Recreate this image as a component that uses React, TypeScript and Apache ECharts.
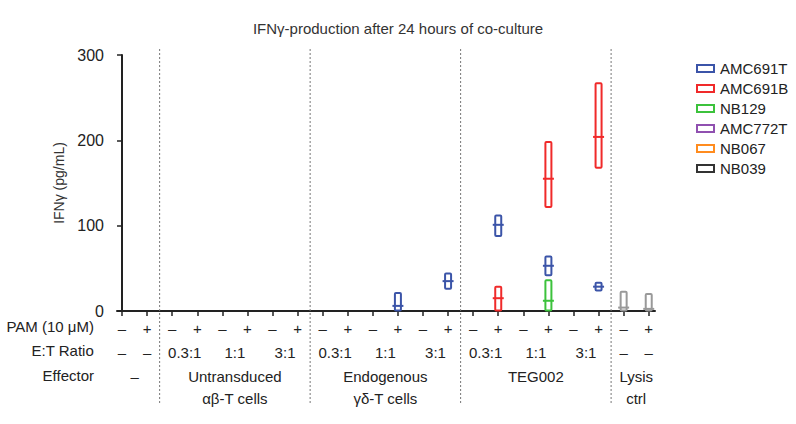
import React, { useEffect, useRef } from "react";
import * as echarts from "echarts";

// ---- data ----
const positions = Array.from({ length: 22 }, (_, i) => i);
const pamLabels = ["–", "+", "–", "+", "–", "+", "–", "+", "–", "+", "–", "+", "–", "+", "–", "+", "–", "+", "–", "+", "–", "+"];
const etPositions = [0, 1, 2.5, 4.5, 6.5, 8.5, 10.5, 12.5, 14.5, 16.5, 18.5, 20, 21];
const etLabels = ["–", "–", "0.3:1", "1:1", "3:1", "0.3:1", "1:1", "3:1", "0.3:1", "1:1", "3:1", "–", "–"];
const effectorPositions = [0.5, 4.5, 10.5, 16.5, 20.5];
const effectorLabels = ["–", "Untransduced\nαβ-T cells", "Endogenous\nγδ-T cells", "TEG002", "Lysis\nctrl"];
const separators = [1.5, 7.5, 13.5, 19.5];

const seriesNames = ["AMC691T", "AMC691B", "NB129", "AMC772T", "NB067", "NB039"];
const seriesColors = ["#3b54a8", "#f02a2a", "#3cc23c", "#9050b0", "#ff8c1f", "#333333"];
// each: [position, min, median, max]
const amc691t = [
  [11, 0.5, 6, 21],
  [13, 26, 35, 44],
  [15, 88, 101, 112],
  [17, 42, 53, 64],
  [19, 24, 28.5, 33],
];
const amc691b = [
  [15, 0.5, 15, 28.5],
  [17, 122, 155, 198],
  [19, 168, 204, 267],
];
const nb129 = [[17, 0.5, 12, 36]];
const amc772t: number[][] = [];
const nb067: number[][] = [];
const nb039: number[][] = [];
const lysisCtrl = [
  [20, 0.5, 4, 22.5],
  [21, 0.5, 2.5, 20],
];
const lysisColor = "#999999";

const FONT = "'Liberation Sans', Arial, Helvetica, sans-serif";

function boxRender(color: string) {
  return (params: any, api: any) => {
    const x = api.value(0);
    const lo = api.coord([x, api.value(1)]);
    const mid = api.coord([x, api.value(2)]);
    const hi = api.coord([x, api.value(3)]);
    const w = 6;
    return {
      type: "group",
      children: [
        {
          type: "rect",
          shape: { x: hi[0] - w / 2, y: hi[1], width: w, height: lo[1] - hi[1], r: 1 },
          style: { fill: "none", stroke: color, lineWidth: 2 },
        },
        {
          type: "line",
          shape: { x1: mid[0] - w / 2 - 2.5, y1: mid[1], x2: mid[0] + w / 2 + 2.5, y2: mid[1] },
          style: { stroke: color, lineWidth: 2 },
        },
      ],
    };
  };
}

export default function App() {
  const ref = useRef<HTMLDivElement>(null);
  useEffect(() => {
    if (!ref.current) return;
    const chart = echarts.init(ref.current, null, { renderer: "svg" });
    const pamMap = new Map(positions.map((p, i) => [p, pamLabels[i]]));
    const etMap = new Map(etPositions.map((p, i) => [p, etLabels[i]]));
    const effMap = new Map(effectorPositions.map((p, i) => [p, effectorLabels[i]]));
    const allData = [amc691t, amc691b, nb129, amc772t, nb067, nb039];

    const baseX = {
      type: "value",
      gridIndex: 0,
      min: -0.2,
      max: 21.25,
      position: "bottom",
      splitLine: { show: false },
    };

    const option: any = {
      animation: false,
      textStyle: { fontFamily: FONT },
      title: {
        text: "IFNγ-production after 24 hours of co-culture",
        left: "center",
        top: 16,
        textStyle: { fontSize: 15, fontWeight: "normal", color: "#333", fontFamily: FONT },
      },
      legend: {
        orient: "vertical",
        left: 691,
        top: 56,
        itemWidth: 17,
        itemHeight: 7,
        itemGap: 5,
        icon: "rect",
        textStyle: { fontSize: 15, color: "#222", fontFamily: FONT, padding: [0, 0, 0, 1] },
        data: seriesNames.map((n, i) => ({
          name: n,
          itemStyle: { color: "#fff", borderColor: seriesColors[i], borderWidth: 2 },
        })),
      },
      grid: { left: 117, right: 141, top: 55, bottom: 113, containLabel: false },
      xAxis: [
        {
          ...baseX,
          axisLine: { show: true, onZero: false, lineStyle: { color: "#222", width: 2 } },
          axisTick: { show: true, customValues: positions, length: 5, lineStyle: { color: "#222", width: 1.5 } },
          axisLabel: {
            customValues: positions,
            formatter: (v: number) => pamMap.get(v) ?? "",
            margin: 10,
            fontSize: 15,
            color: "#222",
            fontFamily: FONT,
          },
        },
        {
          ...baseX,
          offset: 24,
          axisLine: { show: false },
          axisTick: { show: false },
          axisLabel: {
            customValues: etPositions,
            formatter: (v: number) => etMap.get(v) ?? "",
            margin: 10,
            fontSize: 15,
            color: "#222",
            fontFamily: FONT,
          },
        },
        {
          ...baseX,
          offset: 44,
          axisLine: { show: false },
          axisTick: { show: false },
          axisLabel: {
            customValues: effectorPositions,
            formatter: (v: number) => effMap.get(v) ?? "",
            margin: 10,
            fontSize: 15,
            lineHeight: 22,
            color: "#222",
            fontFamily: FONT,
          },
        },
      ],
      yAxis: {
        type: "value",
        min: 0,
        max: 300,
        interval: 100,
        name: "IFNγ (pg/mL)",
        nameLocation: "middle",
        nameGap: 47,
        nameRotate: 90,
        nameTextStyle: { fontSize: 14, color: "#333", fontFamily: FONT },
        axisLine: { show: true, lineStyle: { color: "#222", width: 2 } },
        axisTick: { show: true, length: 5, lineStyle: { color: "#222", width: 1.5 } },
        axisLabel: { margin: 13, fontSize: 16, color: "#222", fontFamily: FONT },
        splitLine: { show: false },
      },
      graphic: [
        { type: "text", right: 796 - 94, top: 319, style: { text: "PAM (10 μM)", fontSize: 15, fill: "#222", fontFamily: FONT } },
        { type: "text", right: 796 - 94, top: 343, style: { text: "E:T Ratio", fontSize: 15, fill: "#222", fontFamily: FONT } },
        { type: "text", right: 796 - 94, top: 368, style: { text: "Effector", fontSize: 15, fill: "#222", fontFamily: FONT } },
      ],
      series: [
        {
          type: "custom",
          name: "separators",
          clip: false,
          silent: true,
          data: separators.map((s) => [s, 0]),
          renderItem: (params: any, api: any) => {
            const x = api.value(0);
            const top = api.coord([x, 300]);
            const bot = api.coord([x, 0]);
            return {
              type: "line",
              shape: { x1: top[0], y1: top[1] - 6, x2: bot[0], y2: bot[1] + 94 },
              style: { stroke: "#777", lineWidth: 1, lineDash: [2, 2] },
            };
          },
          z: 1,
        },
        ...seriesNames.map((n, i) => ({
          type: "custom",
          name: n,
          data: allData[i],
          clip: false,
          itemStyle: { color: seriesColors[i] },
          encode: { x: 0, y: [1, 2, 3] },
          renderItem: boxRender(seriesColors[i]),
          z: 3,
        })),
        {
          type: "custom",
          name: "Lysis ctrl",
          data: lysisCtrl,
          clip: false,
          encode: { x: 0, y: [1, 2, 3] },
          renderItem: boxRender(lysisColor),
          z: 3,
        },
      ],
    };
    chart.setOption(option);
    return () => chart.dispose();
  }, []);
  return <div ref={ref} style={{ width: 796, height: 424, position: "absolute", left: 0, top: 0 }} />;
}
